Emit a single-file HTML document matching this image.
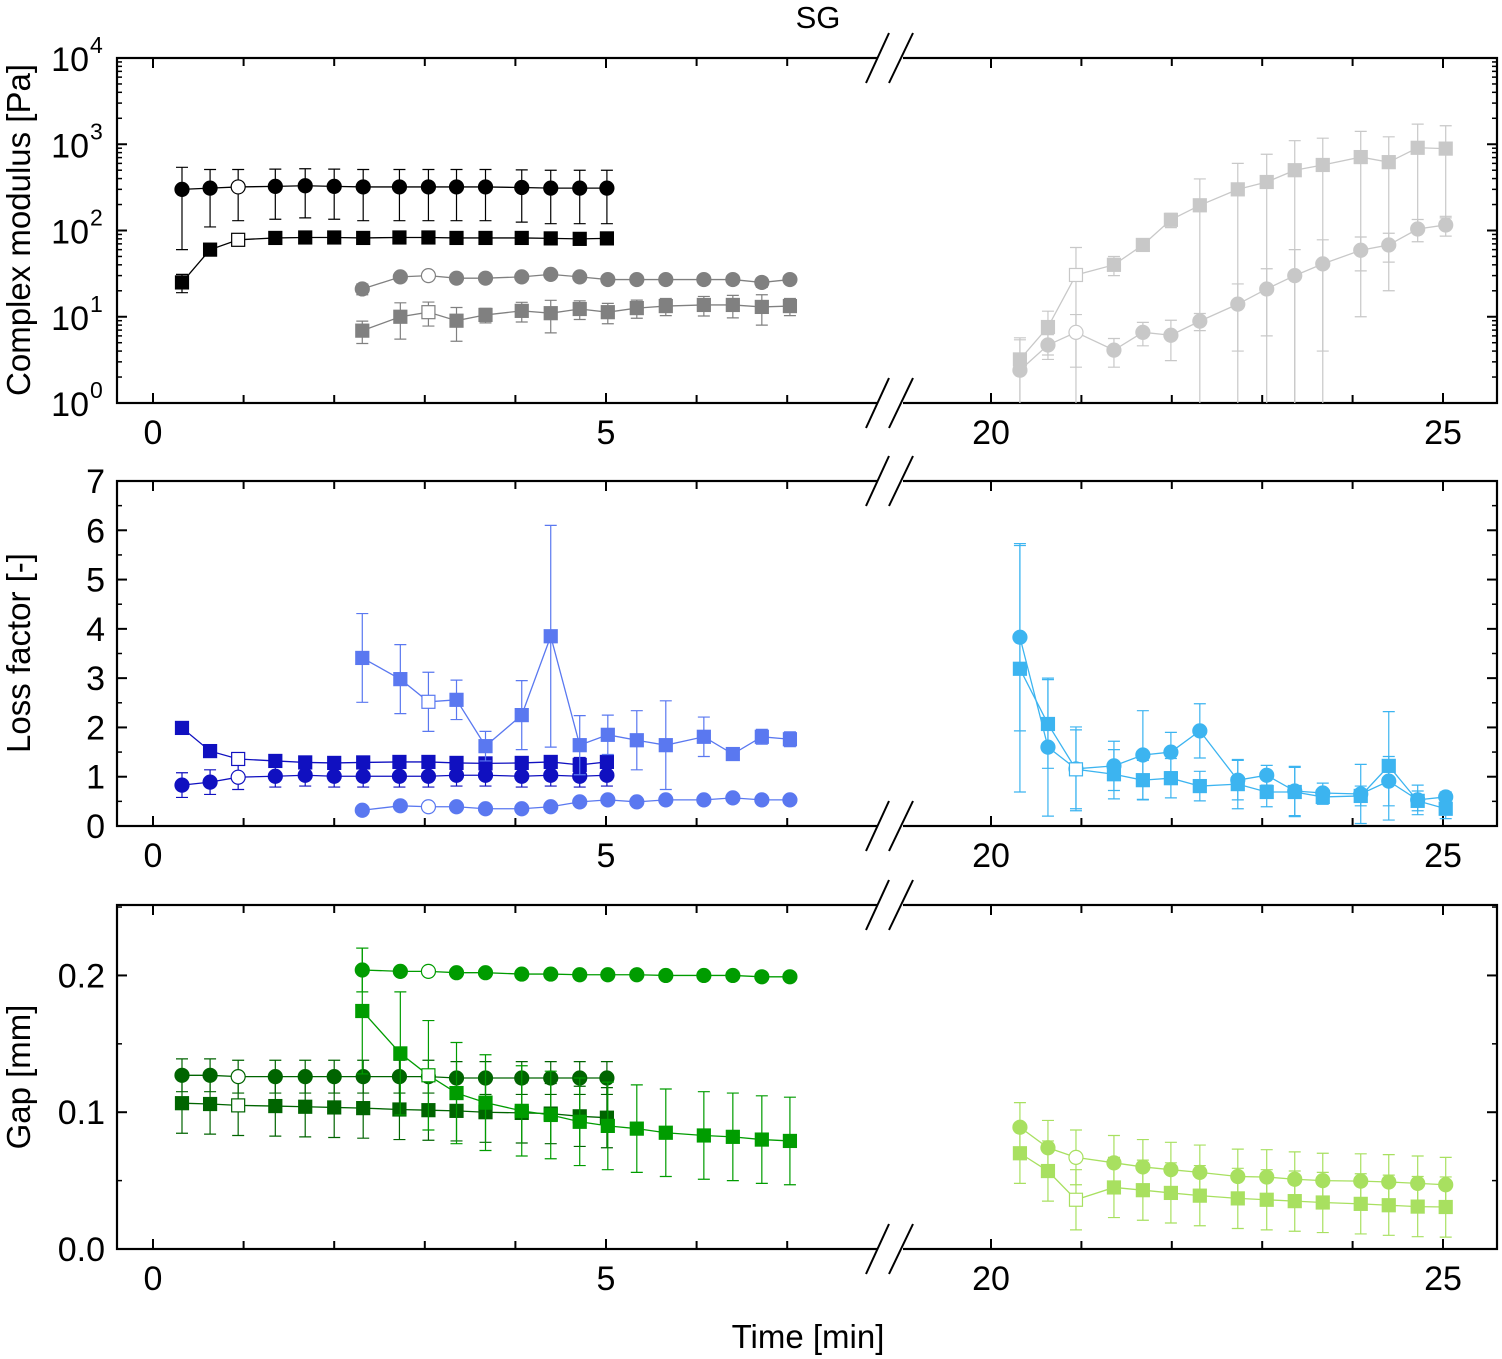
<!DOCTYPE html>
<html><head><meta charset="utf-8"><style>
html,body{margin:0;padding:0;background:#fff;}
svg{display:block;font-family:"Liberation Sans",Arial,sans-serif;}
</style></head><body>
<svg id="chart" width="1502" height="1359" viewBox="0 0 1502 1359" xmlns="http://www.w3.org/2000/svg">
<text x="818" y="28" font-size="31" text-anchor="middle">SG</text>
<text x="808" y="1348" font-size="33" text-anchor="middle">Time [min]</text>
<text transform="translate(30,230) rotate(-90)" font-size="33" text-anchor="middle">Complex modulus [Pa]</text>
<text transform="translate(30,653) rotate(-90)" font-size="33" text-anchor="middle">Loss factor [-]</text>
<text transform="translate(30,1077) rotate(-90)" font-size="33" text-anchor="middle">Gap [mm]</text>
</svg>
<script>
// time points
const tLeftA = [0.32,0.63,0.94,1.35,1.68,2.0,2.32,2.72,3.04,3.35,3.67,4.07,4.39,4.71,5.01];
const tLeftB = [2.31,2.73,3.04,3.35,3.67,4.07,4.39,4.71,5.02,5.34,5.66,6.08,6.4,6.72,7.03];
const tRight = [20.32,20.63,20.94,21.36,21.68,21.99,22.31,22.73,23.05,23.36,23.67,24.09,24.4,24.72,25.03];
// panel 1: complex modulus (Pa)
const modBlackCirc = [300,310,320,325,330,325,320,320,320,320,320,315,310,310,310];
const modBlackCircErr = [240,200,190,190,190,190,190,190,190,190,190,190,190,190,190];
const modBlackSq = [25,60,78,82,83,83,82,83,83,82,82,82,81,80,81];
const modBlackSqErr = [6,8,6,5,5,5,5,5,5,5,5,5,5,5,5];
const modGreyCirc = [21,29,30,28,28,29,31,29,27,27,27,27,27,25,27];
const modGreyCircErr = [3,3,3,3,3,3,3,3,3,3,3,3,3,3,3];
const modGreySq = [6.9,10,11.3,9,10.5,11.7,11,12.3,11.3,12.6,13.3,13.7,13.7,13,13.3];
const modGreySqErr = [2,4.5,3.5,3.8,2,3,4.5,3,3,3,3,3.5,4,5,3];
const modLtSq = [3.2,7.6,30.5,40,68,133,196,300,365,500,575,710,620,910,890];
const modLtSqErr = [2.5,4,33,10,10,25,200,300,400,600,600,700,600,800,750];
const modLtCirc = [2.4,4.7,6.6,4.1,6.6,6.1,8.9,14,21,30,41,59,68,104,116];
const modLtCircErr = [3,1.5,4,1.5,2,3,2,10,15,30,37,25,25,30,30];
// panel 2: loss factor
const lfDkSq = [1.99,1.52,1.36,1.32,1.29,1.28,1.29,1.30,1.30,1.28,1.27,1.28,1.30,1.24,1.30];
const lfDkSqErr = [0.08,0.08,0.1,0.08,0.08,0.08,0.08,0.08,0.08,0.08,0.08,0.08,0.08,0.15,0.08];
const lfDkCirc = [0.83,0.89,0.99,1.01,1.03,1.01,1.01,1.01,1.01,1.03,1.03,1.01,1.03,1.01,1.03];
const lfDkCircErr = [0.25,0.25,0.25,0.22,0.22,0.22,0.22,0.22,0.22,0.22,0.22,0.22,0.22,0.22,0.22];
const lfMidSq = [3.41,2.98,2.52,2.56,1.62,2.25,3.85,1.64,1.85,1.74,1.64,1.81,1.46,1.81,1.76];
const lfMidSqErr = [0.9,0.7,0.6,0.4,0.3,0.7,2.25,0.6,0.4,0.6,0.9,0.4,0.1,0.15,0.15];
const lfMidCirc = [0.32,0.41,0.39,0.39,0.35,0.35,0.39,0.49,0.53,0.49,0.53,0.53,0.57,0.53,0.53];
const lfMidCircErr = [0.05,0.05,0.05,0.05,0.05,0.05,0.05,0.05,0.05,0.05,0.05,0.05,0.05,0.05,0.05];
const lfLtCirc = [3.83,1.6,1.16,1.22,1.44,1.5,1.93,0.93,1.03,0.71,0.67,0.65,0.91,0.53,0.59];
const lfLtCircErr = [1.9,1.4,0.85,0.5,0.9,0.4,0.55,0.4,0.2,0.5,0.2,0.6,0.5,0.3,0.1];
const lfLtSq = [3.19,2.07,1.15,1.05,0.93,0.97,0.81,0.85,0.69,0.69,0.59,0.61,1.22,0.51,0.35];
const lfLtSqErr = [2.5,0.9,0.8,0.5,0.4,0.4,0.3,0.5,0.3,0.5,0.15,0.2,1.1,0.2,0.2];
// panel 3: gap (mm)
const gapDkCirc = [0.127,0.127,0.126,0.126,0.126,0.126,0.126,0.126,0.126,0.125,0.125,0.125,0.125,0.125,0.125];
const gapDkCircErr = [0.012,0.012,0.012,0.012,0.012,0.012,0.012,0.012,0.012,0.012,0.012,0.012,0.012,0.012,0.012];
const gapDkSq = [0.1066,0.106,0.105,0.1045,0.104,0.1035,0.103,0.102,0.1015,0.101,0.1,0.0995,0.099,0.097,0.096];
const gapDkSqErr = [0.022,0.022,0.022,0.022,0.022,0.022,0.022,0.022,0.022,0.022,0.022,0.022,0.022,0.022,0.022];
const gapMidCirc = [0.204,0.203,0.203,0.202,0.202,0.201,0.201,0.2005,0.2005,0.2005,0.2,0.2,0.2,0.199,0.199];
const gapMidCircErr = [0.016,0.002,0.002,0.002,0.002,0.002,0.002,0.002,0.002,0.002,0.002,0.002,0.002,0.002,0.002];
const gapMidSq = [0.174,0.143,0.127,0.114,0.107,0.101,0.098,0.093,0.090,0.088,0.085,0.083,0.082,0.080,0.079];
const gapMidSqErr = [0.046,0.045,0.04,0.037,0.035,0.033,0.032,0.032,0.032,0.032,0.032,0.032,0.032,0.032,0.032];
const gapLtCirc = [0.089,0.074,0.067,0.063,0.060,0.058,0.056,0.053,0.0526,0.051,0.050,0.0496,0.049,0.048,0.047];
const gapLtCircErr = [0.018,0.02,0.02,0.02,0.02,0.02,0.02,0.02,0.02,0.02,0.02,0.02,0.02,0.02,0.02];
const gapLtSq = [0.070,0.057,0.036,0.045,0.043,0.041,0.039,0.037,0.036,0.035,0.034,0.033,0.032,0.031,0.0307];
const gapLtSqErr = [0.022,0.022,0.022,0.022,0.022,0.022,0.022,0.022,0.022,0.022,0.022,0.022,0.022,0.022,0.022];

const NS = 'http://www.w3.org/2000/svg';
const svg = document.getElementById('chart');
const L = 117, R = 1497, BRK0 = 877, BRK1 = 903;
function xPos(t){ return t < 12 ? 153 + t*90.6 : 991 + (t-20)*90.4; }
const panels = [
  {name:'modulus', top:58, bot:403, log:true, min:0, max:4},
  {name:'loss-factor', top:481, bot:826, log:false, min:0, max:7},
  {name:'gap', top:905, bot:1249, log:false, min:0, max:0.2515}
];
function mk(tag, attrs, parent){ const e = document.createElementNS(NS, tag); for (const k in attrs) e.setAttribute(k, attrs[k]); (parent||svg).appendChild(e); return e; }
function yPos(p, v){
  if (p.log){ const lv = Math.log10(Math.max(v, 1e-9)); return p.bot - (lv - p.min)/(p.max-p.min)*(p.bot-p.top); }
  return p.bot - (v - p.min)/(p.max-p.min)*(p.bot-p.top);
}
function clampY(p, y){ return Math.min(p.bot, Math.max(p.top, y)); }

panels.forEach((p, pi) => {
  const g = mk('g', {});
  
  
  mk('rect', {x:L, y:p.top, width:R-L, height:p.bot-p.top, fill:'none', stroke:'#000', 'stroke-width':2.2}, g);
  const xt = [0,1,2,3,4,5,6,7,8,19,20,21,22,23,24,25];
  xt.forEach(t => {
    const x = xPos(t); if (x < L+2 || x > R-2 || (x > BRK0-4 && x < BRK1+4)) return;
    const len = (t===0||t===5||t===20||t===25) ? 10 : 8;
    mk('line', {x1:x, x2:x, y1:p.bot, y2:p.bot-len, stroke:'#000', 'stroke-width':2}, g);
    mk('line', {x1:x, x2:x, y1:p.top, y2:p.top+len, stroke:'#000', 'stroke-width':2}, g);
  });
  [0,5,20,25].forEach(t => {
    const tx = mk('text', {x:xPos(t), y:p.bot+41, 'font-size':34, 'text-anchor':'middle'}, g);
    tx.textContent = String(t);
    
    
  });
  if (p.log){
    for (let d=0; d<=4; d++){
      const y = yPos(p, Math.pow(10,d));
      mk('line', {x1:L, x2:L+10, y1:y, y2:y, stroke:'#000', 'stroke-width':2}, g);
      mk('line', {x1:R, x2:R-10, y1:y, y2:y, stroke:'#000', 'stroke-width':2}, g);
      const tx = mk('text', {x:89, y:y+13, 'font-size':34, 'text-anchor':'end'}, g);
      tx.textContent = '10';
      
      
      const sup = mk('text', {x:90, y:y-5, 'font-size':23, 'text-anchor':'start'}, g);
      sup.textContent = String(d);
      if (d<4) for (let m=2; m<=9; m++){
        const ym = yPos(p, m*Math.pow(10,d));
        mk('line', {x1:L, x2:L+5, y1:ym, y2:ym, stroke:'#000', 'stroke-width':1.5}, g);
        mk('line', {x1:R, x2:R-5, y1:ym, y2:ym, stroke:'#000', 'stroke-width':1.5}, g);
      }
    }
  } else {
    const ticks = pi===1 ? [0,1,2,3,4,5,6,7] : [0,0.1,0.2];
    const labels = pi===1 ? ['0','1','2','3','4','5','6','7'] : ['0.0','0.1','0.2'];
    ticks.forEach((v,i) => {
      const y = yPos(p, v);
      mk('line', {x1:L, x2:L+10, y1:y, y2:y, stroke:'#000', 'stroke-width':2}, g);
      mk('line', {x1:R, x2:R-10, y1:y, y2:y, stroke:'#000', 'stroke-width':2}, g);
      const tx = mk('text', {x:105, y:y+12, 'font-size':34, 'text-anchor':'end'}, g);
      tx.textContent = labels[i];
      
      
    });
    const minor = pi===1 ? [0.5,1.5,2.5,3.5,4.5,5.5,6.5] : [0.05,0.15,0.25];
    minor.forEach(v => { const y = yPos(p, v);
      mk('line', {x1:L, x2:L+5, y1:y, y2:y, stroke:'#000', 'stroke-width':1.5}, g);
      mk('line', {x1:R, x2:R-5, y1:y, y2:y, stroke:'#000', 'stroke-width':1.5}, g); });
  }
});

function series(pi, name, ts, vals, errs, color, shape, openIdx){
  const p = panels[pi];
  const g = mk('g', {});
  
  
  ts.forEach((t,i) => {
    const x = xPos(t);
    const lo = vals[i]-errs[i], hi = vals[i]+errs[i];
    const y1 = clampY(p, yPos(p, hi));
    const y2 = (p.log && lo <= 0) ? p.bot : clampY(p, yPos(p, lo));
    const e = mk('path', {d:`M${x},${y1}V${y2}` + (y1>p.top?`M${x-6},${y1}H${x+6}`:'') + (y2<p.bot?`M${x-6},${y2}H${x+6}`:''), stroke:color, 'stroke-width':1.2, fill:'none'}, g);
    
    
  });
  const pts = ts.map((t,i) => xPos(t)+','+yPos(p, vals[i])).join(' ');
  mk('polyline', {points:pts, fill:'none', stroke:color, 'stroke-width':1.3}, g);
  ts.forEach((t,i) => {
    const x = xPos(t), y = yPos(p, vals[i]);
    const open = i===openIdx;
    let m;
    if (shape==='sq') m = mk('rect', {x:x-6.5, y:y-6.5, width:13, height:13, fill:open?'#fff':color, stroke:color, 'stroke-width':1.2}, g);
    else m = mk('circle', {cx:x, cy:y, r:7, fill:open?'#fff':color, stroke:color, 'stroke-width':1.2}, g);
    
    
  });
}
series(0,'modulus-black-circles',tLeftA,modBlackCirc,modBlackCircErr,'#000','circ',2);
series(0,'modulus-black-squares',tLeftA,modBlackSq,modBlackSqErr,'#000','sq',2);
series(0,'modulus-grey-circles',tLeftB,modGreyCirc,modGreyCircErr,'#808080','circ',2);
series(0,'modulus-grey-squares',tLeftB,modGreySq,modGreySqErr,'#808080','sq',2);
series(0,'modulus-lightgrey-squares',tRight,modLtSq,modLtSqErr,'#c8c8c8','sq',2);
series(0,'modulus-lightgrey-circles',tRight,modLtCirc,modLtCircErr,'#c8c8c8','circ',2);
series(1,'loss-darkblue-circles',tLeftA,lfDkCirc,lfDkCircErr,'#1010c0','circ',2);
series(1,'loss-darkblue-squares',tLeftA,lfDkSq,lfDkSqErr,'#1010c0','sq',2);
series(1,'loss-midblue-squares',tLeftB,lfMidSq,lfMidSqErr,'#5a78f0','sq',2);
series(1,'loss-midblue-circles',tLeftB,lfMidCirc,lfMidCircErr,'#5a78f0','circ',2);
series(1,'loss-lightblue-circles',tRight,lfLtCirc,lfLtCircErr,'#3cb4f0','circ',2);
series(1,'loss-lightblue-squares',tRight,lfLtSq,lfLtSqErr,'#3cb4f0','sq',2);
series(2,'gap-darkgreen-squares',tLeftA,gapDkSq,gapDkSqErr,'#006400','sq',2);
series(2,'gap-darkgreen-circles',tLeftA,gapDkCirc,gapDkCircErr,'#006400','circ',2);
series(2,'gap-midgreen-squares',tLeftB,gapMidSq,gapMidSqErr,'#009c00','sq',2);
series(2,'gap-midgreen-circles',tLeftB,gapMidCirc,gapMidCircErr,'#009c00','circ',2);
series(2,'gap-lightgreen-circles',tRight,gapLtCirc,gapLtCircErr,'#a8e060','circ',2);
series(2,'gap-lightgreen-squares',tRight,gapLtSq,gapLtSqErr,'#a8e060','sq',2);

panels.forEach(p => {
  [p.top, p.bot].forEach(y => {
    const g = mk('g', {});
    
    
    mk('rect', {x:BRK0, y:y-3, width:BRK1-BRK0, height:6, fill:'#fff'}, g);
    mk('line', {x1:866, y1:y+25, x2:889, y2:y-25, stroke:'#000', 'stroke-width':2}, g);
    mk('line', {x1:889, y1:y+25, x2:913, y2:y-25, stroke:'#000', 'stroke-width':2}, g);
  });
});
</script>
</body></html>
